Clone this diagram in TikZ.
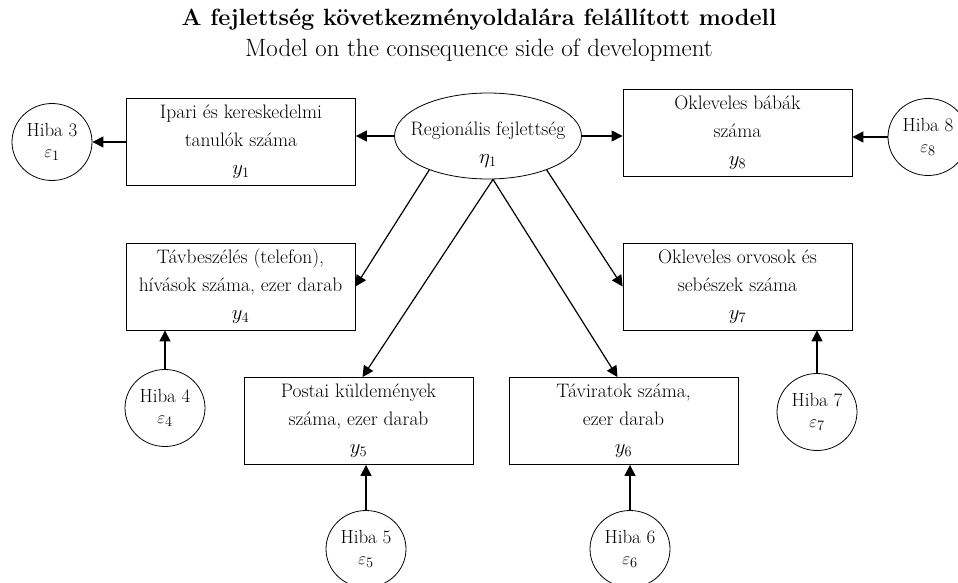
\documentclass[tikz,border=0pt]{standalone}
\usepackage{tikz}
\usetikzlibrary{%
  calc,arrows.meta,shapes}
\tikzset {>={Triangle[length=11pt,width=11pt]}}
\tikzset{obsbox/.style={draw,rectangle,minimum width=229pt,
           minimum height=87pt,inner sep=0pt,align=center,
           font=\fontsize{19.5}{28}\selectfont},
         latent/.style={draw,ellipse,minimum width=187pt,
           minimum height=86pt,inner sep=0pt},
         hiba/.style={draw,ellipse,minimum width=80pt,
           minimum height=77pt,inner sep=0pt,align=center,
           font=\fontsize{19}{21}\selectfont},
         path/.style={->,line width=1.2pt}}

\begin{document}
\begin{tikzpicture}[x=1pt,y=-1pt,line width=0.8pt]
\useasboundingbox (0,0) rectangle (958,583);
% title
\node[font=\fontsize{23.5}{27}\selectfont\bfseries] (title) at (479,20)
  {A fejlettség következményoldalára felállított modell};
\node[font=\fontsize{25}{28}\selectfont] (subtitle) at (479,50)
  {Model on the consequence side of development};
% latent variable
\node (eta) [latent] at (488,136) {};
\node[align=center,font=\fontsize{19.5}{28}\selectfont] (etalbl)
  at ([yshift=-9pt]eta.center) {Regionális fejlettség\\ $\eta_1$};
% indicators
\node (y1) [obsbox] at (241,142) {Ipari és kereskedelmi\\ tanulók száma\\ $y_1$};
\node (y8) [obsbox] at (737.5,133) {Okleveles bábák\\ száma\\ $y_8$};
\node (y4) [obsbox] at (240.5,286.5) {Távbeszélés (telefon),\\ hívások száma, ezer darab\\ $y_4$};
\node (y7) [obsbox] at (737.5,286.5) {Okleveles orvosok és\\ sebészek száma\\ $y_7$};
\node (y5) [obsbox] at (358.5,421) {Postai küldemények\\ száma, ezer darab\\ $y_5$};
\node (y6) [obsbox] at (623.5,421) {Táviratok száma,\\ ezer darab\\ $y_6$};
% errors
\node (e3) [hiba] at (52,142) {Hiba 3\\ $\varepsilon_1$};
\node (e8) [hiba] at (928,137) {Hiba 8\\ $\varepsilon_8$};
\node (e4) [hiba] at (165,408) {Hiba 4\\ $\varepsilon_4$};
\node (e7) [hiba] at (817,412) {Hiba 7\\ $\varepsilon_7$};
\node (e5) [hiba] at (366,549) {Hiba 5\\ $\varepsilon_5$};
\node (e6) [hiba] at (630,549) {Hiba 6\\ $\varepsilon_6$};
% loadings
\draw[path] (eta.west) -- (eta.west -| y1.east);
\draw[path] (eta.east) -- (eta.east -| y8.west);
\draw[path] (eta.210) -- (y4.east);
\draw[path] ([xshift=5pt]eta.south) -- ([xshift=4pt]y5.north);
\draw[path] ([xshift=5pt]eta.south) -- ([xshift=-6pt]y6.north);
\draw[path] (eta.330) -- (y7.west);
% error terms
\draw[path] (y1.west) -- (e3.east);
\draw[path] (e8.west) -- (e8.west -| y8.east);
\draw[path] (e4.north) -- (e4.north |- y4.south);
\draw[path] (e7.north) -- (e7.north |- y7.south);
\draw[path] (e5.north) -- (e5.north |- y5.south);
\draw[path] (e6.north) -- (e6.north |- y6.south);
\end{tikzpicture}
\end{document}
